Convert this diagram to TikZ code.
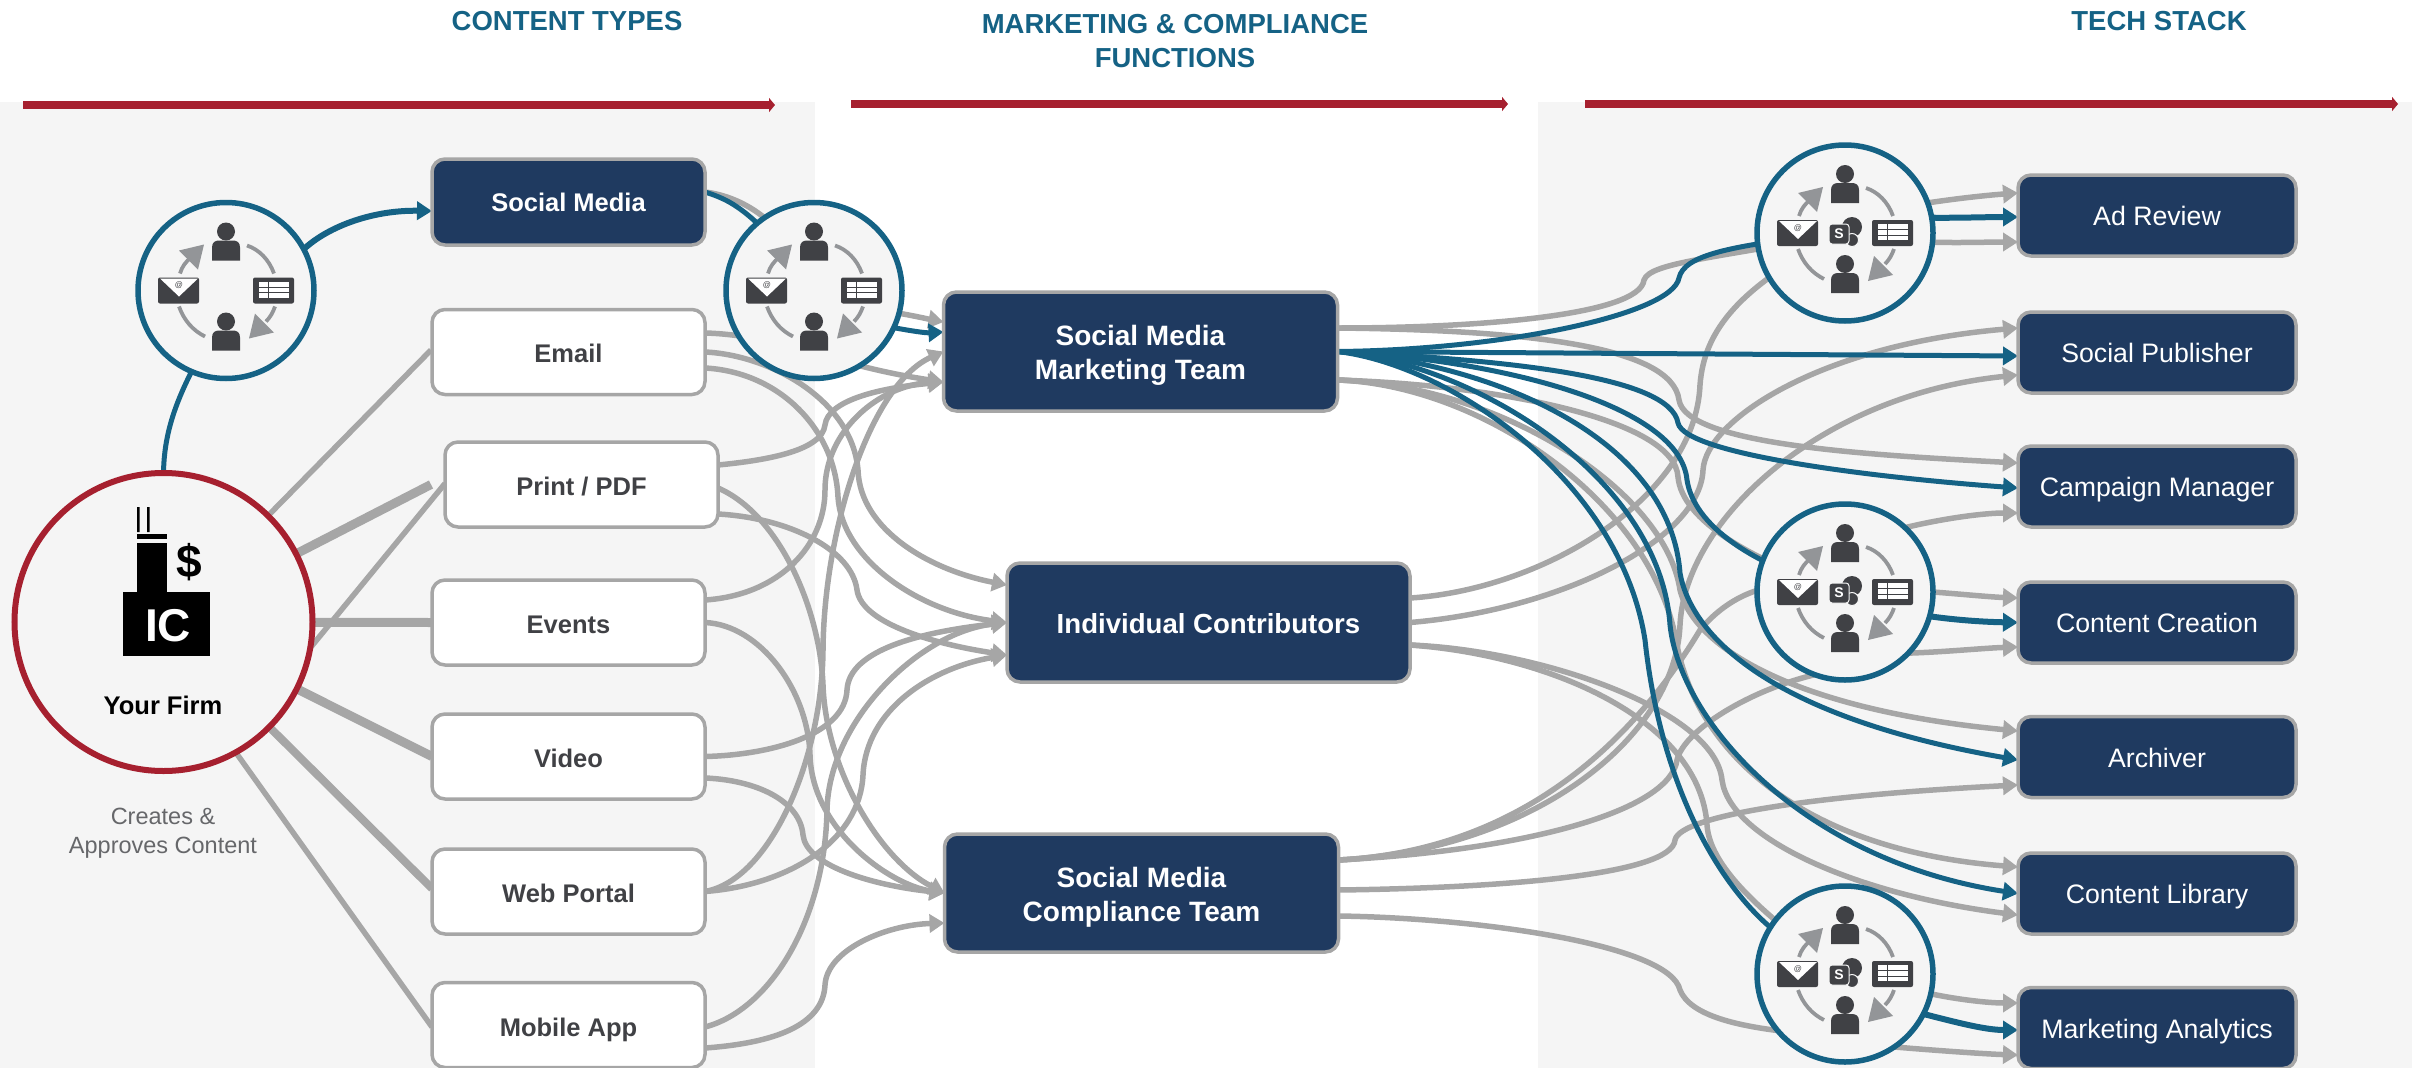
\documentclass[tikz,border=0pt]{standalone}
\usepackage{fontspec}
\setmainfont{Liberation Sans}
\usetikzlibrary{arrows.meta}
\definecolor{navy}{HTML}{1F3A60}
\definecolor{teal}{HTML}{156285}
\definecolor{wine}{HTML}{A6202F}
\definecolor{conn}{HTML}{A6A6A6}
\definecolor{panel}{HTML}{F5F5F5}
\definecolor{ink}{HTML}{404145}
\definecolor{arc}{HTML}{939598}
\pgfdeclarelayer{panellayer}
\pgfdeclarelayer{connlayer}
\pgfsetlayers{panellayer,connlayer,main}
\tikzset{
  ttl/.style={font=\fontsize{27.5}{34}\selectfont\bfseries,text=teal,align=center,inner sep=0pt},
  boxbase/.style={rectangle,rounded corners=13pt,draw=conn,line width=3.5pt,outer sep=0pt,inner sep=0pt},
  navyb/.style={boxbase,fill=navy,text=white,font=\fontsize{28}{34}\selectfont\bfseries,align=center,minimum width=#1},
  navyb/.default=394pt,
  twoline/.style={text height=56pt,text depth=0pt},
  ctb/.style={boxbase,fill=white,text=ink,font=\fontsize{25.5}{30}\selectfont\bfseries,minimum width=273pt,minimum height=85pt,text height=21pt,text depth=0pt},
  smb/.style={boxbase,fill=navy,text=white,font=\fontsize{25.5}{30}\selectfont\bfseries,minimum width=273pt,minimum height=86pt,text height=18.3pt,text depth=0pt},
  toolb/.style={boxbase,fill=navy,text=white,font=\fontsize{26.7}{30}\selectfont,minimum width=278pt,minimum height=81pt,text height=20.5pt,text depth=0pt},
  wfc/.style={circle,draw=teal,fill=panel,line width=5.5pt,minimum size=176pt,inner sep=0pt,outer sep=0pt},
  firmc/.style={circle,draw=wine,fill=panel,line width=6pt,minimum size=298pt,inner sep=0pt,outer sep=0pt},
  gline/.style={draw=conn,line width=5.5pt},
  garrow/.style={gline,-{Triangle[length=15pt,width=18pt]}},
  bline/.style={draw=teal,line width=5pt},
  barrow/.style={bline,-{Triangle[length=15pt,width=18pt]}},
  redbar/.style={draw=wine,line width=8.5pt,-{Triangle[length=6pt,width=14pt]}},
}
\newcommand\wfglyphs[1]{%
  \begin{scope}[shift={(#1.center)}]
    \fill[ink] (0,-59) circle (9pt);
    \fill[ink] (-14,-30) -- (-14,-43) .. controls (-14,-48) and (-11,-50) .. (-7,-50) -- (7,-50) .. controls (11,-50) and (14,-48) .. (14,-43) -- (14,-30) -- cycle;
    \fill[ink] (0,31) circle (9pt);
    \fill[ink] (-14,60) -- (-14,47) .. controls (-14,42) and (-11,40) .. (-7,40) -- (7,40) .. controls (11,40) and (14,42) .. (14,47) -- (14,60) -- cycle;
    \fill[ink,rounded corners=2pt] (-68,-13) rectangle (-27,13);
    \fill[white] (-66,-12) -- (-28,-12) -- (-47,6) -- cycle;
    \node[inner sep=0pt,text=ink,font=\fontsize{8}{8}\selectfont] (#1at) at (-47,-5) {@};
    \fill[ink,rounded corners=2pt] (27,-13) rectangle (68,13);
    \fill[white] (33,-9) rectangle (63,7);
    \draw[ink,line width=1pt] (33,-3.5) -- (63,-3.5) (33,2) -- (63,2) (42,-9) -- (42,7);
    \draw[arc,line width=3.8pt] (21,-45) .. controls (33,-41) and (43,-31) .. (48,-17);
    \draw[arc,line width=3.8pt] (-47,16) .. controls (-42,30) and (-33,40) .. (-21,46);
    \draw[arc,line width=3.8pt] (-46,-17) .. controls (-44,-24) and (-40,-29) .. (-35,-33);
    \fill[arc] (-22,-46) -- (-47,-40) -- (-28,-21) -- cycle;
    \draw[arc,line width=3.8pt] (49,16) .. controls (47,22) and (44,27) .. (40,31);
    \fill[arc] (23,48) -- (29,23) -- (48,42) -- cycle;
  \end{scope}}
\newcommand\spglyph[1]{%
  \begin{scope}[shift={(#1.center)}]
    \fill[ink] (7,-6) circle (10pt);
    \fill[ink,draw=panel,line width=1pt] (7,7) circle (6.5pt);
    \fill[ink,draw=panel,line width=1pt,rounded corners=3pt] (-16,-9) rectangle (4,11);
    \node[inner sep=0pt,text=white,font=\fontsize{14}{14}\selectfont\bfseries] (#1s) at (-6,1) {S};
  \end{scope}}
\begin{document}
\begin{tikzpicture}[x=1pt,y=-1pt]
\useasboundingbox (0,0) rectangle (2412,1068);
\begin{pgfonlayer}{panellayer}
  \fill[panel] (0,102) rectangle (815,1068);
  \fill[panel] (1538,102) rectangle (2412,1068);
\end{pgfonlayer}
% titles
\node[ttl] (t1) at (567,21) {CONTENT TYPES};
\node[ttl] (t2) at (1175,41) {MARKETING \& COMPLIANCE\\FUNCTIONS};
\node[ttl] (t3) at (2159,21) {TECH STACK};
% red bars
\coordinate (r1a) at (23,105); \coordinate (r1b) at (775,105);
\coordinate (r2a) at (851,104); \coordinate (r2b) at (1508,104);
\coordinate (r3a) at (1585,104); \coordinate (r3b) at (2398,104);
\draw[redbar] (r1a) -- (r1b);
\draw[redbar] (r2a) -- (r2b);
\draw[redbar] (r3a) -- (r3b);
% nodes
\node[firmc] (firm) at (163.5,622) {};
\node[wfc] (wfa) at (226,290.5) {};
\node[wfc] (wfb) at (814,290.5) {};
\node[wfc] (wfc) at (1845,233) {};
\node[wfc] (wfd) at (1845,592) {};
\node[wfc] (wfe) at (1845,974) {};
\node[smb] (sm) at (568.5,202) {Social Media};
\node[ctb] (email) at (568.5,352) {Email};
\node[ctb] (pdf) at (581.5,484.5) {Print / PDF};
\node[ctb] (events) at (568.5,622.5) {Events};
\node[ctb] (video) at (568.5,756.5) {Video};
\node[ctb] (web) at (568.5,891.5) {Web Portal};
\node[ctb,text height=23pt] (mobile) at (568.5,1025) {Mobile App};
\node[navyb,twoline,minimum height=119pt] (mkt) at (1140.5,351.5) {Social Media\\Marketing Team};
\node[navyb=403pt,minimum height=119pt,text height=22pt,text depth=0pt,font=\fontsize{27.6}{34}\selectfont\bfseries] (ind) at (1208.5,622.5) {Individual Contributors};
\node[navyb,twoline,minimum height=118pt] (cmp) at (1141.5,893) {Social Media\\Compliance Team};
\node[toolb] (ad) at (2157,215.5) {Ad Review};
\node[toolb] (sp) at (2157,352.5) {Social Publisher};
\node[toolb] (cm) at (2157,486.5) {Campaign Manager};
\node[toolb] (cc) at (2157,622.5) {Content Creation};
\node[toolb] (arch) at (2157,757) {Archiver};
\node[toolb] (lib) at (2157,893.5) {Content Library};
\node[toolb] (ma) at (2157,1028) {Marketing Analytics};
% firm glyph
\fill[black] (137,507) rectangle (139.5,532) (147,507) rectangle (149.5,532);
\fill[black] (137,534) rectangle (167,539);
\fill[black] (137,543) rectangle (167,592);
\fill[black] (123,592) rectangle (210,656);
\node[inner sep=0pt,font=\fontsize{46}{46}\selectfont\bfseries] (dollar) at (189,562) {\$};
\node[inner sep=0pt,text=white,font=\fontsize{46}{46}\selectfont\bfseries] (ic) at (168,626) {IC};
\node[inner sep=0pt,font=\fontsize{25.5}{30}\selectfont\bfseries,text height=21pt,text depth=0pt] (firmname) at (163,704) {Your Firm};
\node[inner sep=0pt,align=center,text=ink!80,font=\fontsize{23.5}{29}\selectfont] (firmnote) at (163,833) {Creates \&\\Approves Content};
\wfglyphs{wfa}\wfglyphs{wfb}\wfglyphs{wfc}\wfglyphs{wfd}\wfglyphs{wfe}
\spglyph{wfc}\spglyph{wfd}\spglyph{wfe}
\begin{pgfonlayer}{connlayer}
% firm fan
\draw[gline] (firm) -- ([yshift=2pt,xshift=-1pt]email.west);
\draw[gline,line width=9pt] (firm) -- ([xshift=-14pt]pdf.west);
\draw[gline,line width=9pt] (firm) -- (events.west);
\draw[gline] (firm.-10) -- ([yshift=1pt]pdf.west);
\draw[gline,line width=9pt] (firm) -- (video.west);
\draw[gline,line width=8pt] (firm) -- ([yshift=3pt]web.west);
\draw[gline] (firm.-61) -- ([yshift=-2pt]mobile.west);
% social media
\draw[gline] ([yshift=10pt]sm.east) .. controls (745,197) and (790,225) .. (wfb.center);
\draw[garrow] (wfb.-15) .. controls (915,316) and (928,319) .. ([yshift=29.5pt]mkt.west);
% email
\draw[garrow] ([yshift=19pt]email.east) .. controls (780,335) and (830,365) .. ([yshift=-30.5pt]mkt.west);
\draw[garrow] (email.east) .. controls (770,355) and (852,400) .. (858,470) .. controls (860,530) and (930,570) .. ([yshift=37.5pt]ind.west);
\draw[garrow] ([yshift=-16pt]email.east) .. controls (780,372) and (835,430) .. (838,497) .. controls (842,560) and (920,612) .. (ind.west);
% print
\draw[garrow] ([yshift=19.5pt]pdf.east) .. controls (770,460) and (822,450) .. (825,425) .. controls (828,400) and (880,388) .. ([yshift=-30.5pt]mkt.west);
\draw[garrow] ([yshift=-3.5pt]pdf.east) .. controls (780,515) and (820,610) .. (823,685) .. controls (826,770) and (880,860) .. (cmp.west);
\draw[garrow] ([yshift=-29.5pt]pdf.east) .. controls (790,518) and (852,550) .. (857,590) .. controls (862,625) and (940,645) .. ([yshift=-32.5pt]ind.west);
% events
\draw[garrow] ([yshift=22.5pt]events.east) .. controls (780,595) and (825,545) .. (825,490) .. controls (825,430) and (880,385) .. ([yshift=-30.5pt]mkt.west);
\draw[garrow] (events.east) .. controls (760,625) and (808,690) .. (810,755) .. controls (812,830) and (890,885) .. (cmp.west);
% video
\draw[garrow] (video.east) .. controls (770,755) and (845,735) .. (847,690) .. controls (849,650) and (920,632) .. (ind.west);
\draw[garrow] ([yshift=-21.5pt]video.east) .. controls (755,780) and (800,800) .. (803,835) .. controls (806,865) and (870,885) .. (cmp.west);
% web
\draw[garrow] (web.east) .. controls (770,880) and (822,760) .. (823,650) .. controls (824,530) and (870,385) .. (mkt.west);
\draw[garrow] (web.east) .. controls (790,885) and (860,840) .. (863,775) .. controls (866,710) and (930,668) .. ([yshift=-32.5pt]ind.west);
% mobile
\draw[garrow] ([yshift=-2pt]mobile.east) .. controls (770,1010) and (825,920) .. (827,810) .. controls (829,720) and (920,632) .. (ind.west);
\draw[garrow] ([yshift=-23pt]mobile.east) .. controls (775,1043) and (823,1025) .. (825,985) .. controls (827,950) and (885,925) .. ([yshift=-30pt]cmp.west);
% marketing gray
\draw[gline] ([yshift=23.5pt]mkt.east) .. controls (1480,328) and (1640,315) .. (1644,280) .. controls (1650,262) and (1720,258) .. (wfc.center);
\draw[garrow] ([yshift=23.5pt]mkt.east) .. controls (1520,330) and (1672,345) .. (1679,400) .. controls (1686,445) and (1870,455) .. ([yshift=23.5pt]cm.west);
\draw[gline] ([yshift=-28.5pt]mkt.east) .. controls (1500,385) and (1675,420) .. (1678,477) .. controls (1682,520) and (1750,560) .. (wfd.center);
\draw[garrow] ([yshift=-28.5pt]mkt.east) .. controls (1500,385) and (1665,490) .. (1680,590) .. controls (1695,650) and (1800,710) .. ([yshift=26pt]arch.west);
\draw[garrow] ([yshift=-28.5pt]mkt.east) .. controls (1480,385) and (1650,500) .. (1676,640) .. controls (1695,750) and (1800,850) .. ([yshift=26.5pt]lib.west);
% individual
\draw[gline] ([yshift=24.5pt]ind.east) .. controls (1540,590) and (1695,500) .. (1700,385) .. controls (1704,330) and (1740,285) .. (wfc.center);
\draw[garrow] (ind.east) .. controls (1560,610) and (1700,540) .. (1703,470) .. controls (1706,420) and (1820,345) .. ([yshift=24.5pt]sp.west);
\draw[garrow] ([yshift=-22.5pt]ind.east) .. controls (1540,650) and (1715,710) .. (1722,780) .. controls (1730,840) and (1860,895) .. ([yshift=-21.5pt]lib.west);
\draw[gline] ([yshift=-22.5pt]ind.east) .. controls (1550,655) and (1700,720) .. (1707,825) .. controls (1710,870) and (1770,920) .. (wfe.center);
% compliance
\draw[gline] ([yshift=33pt]cmp.east) .. controls (1530,850) and (1640,730) .. (1700,630) .. controls (1725,600) and (1770,570) .. (wfd.center);
\draw[garrow] ([yshift=33pt]cmp.east) .. controls (1530,850) and (1675,740) .. (1680,625) .. controls (1685,520) and (1820,395) .. ([yshift=-22.5pt]sp.west);
\draw[gline] ([yshift=33pt]cmp.east) .. controls (1530,850) and (1670,810) .. (1677,760) .. controls (1684,730) and (1750,690) .. (wfd.-110);
\draw[garrow] ([yshift=3pt]cmp.east) .. controls (1500,888) and (1672,875) .. (1675,840) .. controls (1680,815) and (1820,795) .. ([yshift=-28pt]arch.west);
\draw[gline] ([yshift=-23pt]cmp.east) .. controls (1480,918) and (1670,945) .. (1680,990) .. controls (1690,1015) and (1735,1025) .. (wfe.-140);
% fans out of the right circles
\draw[garrow] (wfc.20) .. controls (1960,198) and (1990,195) .. ([yshift=22.5pt]ad.west);
\draw[garrow] (wfc.-6) .. controls (1960,243) and (1990,242) .. ([yshift=-26.5pt]ad.west);
\draw[garrow] (wfd.47) .. controls (1945,518) and (1985,513) .. ([yshift=-26.5pt]cm.west);
\draw[garrow] (wfd.0) .. controls (1960,594) and (1990,597) .. ([yshift=24.5pt]cc.west);
\draw[garrow] (wfd.-44) .. controls (1945,652) and (1985,648) .. ([yshift=-24.5pt]cc.west);
\draw[garrow] (wfe.-13) .. controls (1960,1000) and (1990,1003) .. ([yshift=25pt]ma.west);
\draw[garrow] (wfe.-56) .. controls (1930,1050) and (1985,1054) .. ([yshift=-27pt]ma.west);
% blue
\draw[bline] (firm.90) .. controls (164,440) and (172,410) .. (wfa.-113);
\draw[barrow,line width=6pt] (wfa.28) .. controls (330,225) and (375,210) .. ([yshift=-9pt]sm.west);
\draw[bline] ([yshift=10pt]sm.east) .. controls (730,200) and (755,210) .. (wfb.center);
\draw[barrow] (wfb.-25) .. controls (912,331) and (925,333) .. ([yshift=19.5pt]mkt.west);
\draw[bline] (mkt.east) .. controls (1500,350) and (1672,315) .. (1679,278) .. controls (1684,255) and (1730,245) .. (wfc.center);
\draw[barrow] (mkt.east) -- ([yshift=-3.5pt]sp.west);
\draw[barrow] (mkt.east) .. controls (1500,360) and (1670,375) .. (1678,423) .. controls (1685,455) and (1880,478) .. ([yshift=-1.5pt]cm.west);
\draw[bline] (mkt.east) .. controls (1500,360) and (1680,405) .. (1687,480) .. controls (1694,525) and (1750,565) .. (wfd.center);
\draw[barrow] (mkt.east) .. controls (1500,365) and (1670,440) .. (1680,573) .. controls (1690,630) and (1760,715) .. ([yshift=-3pt]arch.west);
\draw[barrow] (mkt.east) .. controls (1480,365) and (1660,480) .. (1670,625) .. controls (1680,720) and (1800,860) .. (lib.west);
\draw[bline] (mkt.east) .. controls (1450,365) and (1620,480) .. (1645,640) .. controls (1660,780) and (1715,880) .. (wfe.148);
\draw[barrow,line width=6pt] (wfc.10) .. controls (1960,218) and (1990,217) .. ([yshift=-1.5pt]ad.west);
\draw[barrow,line width=6pt] (wfd.-16) .. controls (1955,620) and (1985,622) .. (cc.west);
\draw[barrow,line width=6pt] (wfe.-27) .. controls (1955,1022) and (1985,1030) .. ([yshift=-2pt]ma.west);
\end{pgfonlayer}
\end{tikzpicture}
\end{document}
